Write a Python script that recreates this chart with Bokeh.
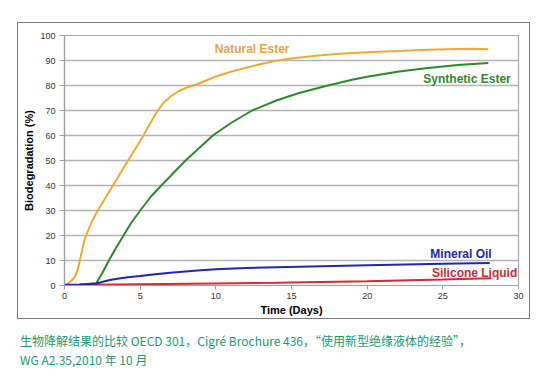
from bokeh.plotting import figure
from bokeh.models import Label, FixedTicker, Title
from bokeh.layouts import column
from bokeh.embed import file_html
from bokeh.resources import INLINE

# ---- data ----
natural_days = [0, 0.33, 0.66, 0.88, 1.1, 1.32, 1.5, 1.8, 2.2, 2.7, 3.2, 3.7, 4.2, 4.7, 5.2, 5.6, 6.06, 6.5, 7.0, 7.5, 8.0, 8.8, 10, 11, 12, 13, 13.9, 15, 16, 17, 18, 19, 20, 22, 24, 26, 27, 28]
natural_vals = [0, 1.2, 3.2, 6.4, 12.4, 18.3, 21, 25.5, 30, 35, 40, 45, 50, 54.8, 59.8, 64.2, 69, 72.8, 75.6, 77.6, 79, 80.6, 83.6, 85.5, 87.1, 88.6, 89.8, 90.8, 91.5, 92.1, 92.6, 93.0, 93.3, 93.8, 94.3, 94.6, 94.7, 94.5]

synthetic_days = [0, 1, 2.1, 2.5, 2.97, 3.4, 3.8, 4.4, 5.07, 5.7, 6.4, 7.2, 8.0, 8.9, 9.8, 11, 12.4, 14, 15.5, 17.4, 19, 20, 22, 24, 26, 28]
synthetic_vals = [0, 0.3, 0.9, 5, 10.4, 15, 19, 25, 30.5, 35.5, 40, 45, 50, 55, 60, 65, 70, 74, 77, 80, 82.3, 83.5, 85.5, 87, 88.2, 89]

mineral_days = [0, 1, 2.1, 2.6, 3, 3.6, 4.2, 5, 6, 7, 8, 9, 10, 12, 14, 17, 20, 25, 28.1]
mineral_vals = [0.3, 0.4, 0.8, 1.6, 2.2, 2.8, 3.3, 3.8, 4.5, 5.1, 5.6, 6.1, 6.5, 7.0, 7.3, 7.7, 8.1, 8.7, 9.0]

silicone_days = [0, 2, 5, 10, 14, 20, 25, 28.2]
silicone_vals = [0.2, 0.3, 0.5, 0.8, 1.1, 1.7, 2.4, 2.9]

x_ticks = [0, 5, 10, 15, 20, 25, 30]
y_ticks = [0, 10, 20, 30, 40, 50, 60, 70, 80, 90, 100]

series_names = ["Natural Ester", "Synthetic Ester", "Mineral Oil", "Silicone Liquid"]
x_title = "Time (Days)"
y_title = "Biodegradation (%)"
caption_1 = "生物降解结果的比较 OECD 301，Cigré Brochure 436，“使用新型绝缘液体的经验”，"
caption_2 = "WG A2.35,2010 年 10 月"

# ---- chart (boxed) ----
p = figure(width=513, height=297, x_range=(0, 30), y_range=(0, 100),
           output_backend="svg", toolbar_location=None,
           min_border_left=46, min_border_right=13, min_border_top=12, min_border_bottom=35)
p.margin = (22, 0, 0, 17)
p.styles = {"border": "1.5px solid #7a7a7a"}
p.background_fill_color = "white"
p.border_fill_color = "white"
p.outline_line_color = "#a8a8a8"
p.outline_line_width = 1.2

p.xgrid.grid_line_color = None
p.ygrid.grid_line_color = "#b4b4b4"
p.ygrid.grid_line_width = 1.3

p.xaxis.ticker = FixedTicker(ticks=x_ticks)
p.yaxis.ticker = FixedTicker(ticks=y_ticks)
for ax in (p.xaxis, p.yaxis):
    ax.axis_line_color = "#a0a0a0"
    ax.axis_line_width = 1.2
    ax.major_tick_line_color = "#a0a0a0"
    ax.minor_tick_line_color = None
    ax.major_tick_in = 0
    ax.major_label_text_font = "Liberation Sans"
    ax.major_label_text_font_size = "9px"
    ax.major_label_text_color = "#333333"
    ax.axis_label_text_font = "Liberation Sans"
    ax.axis_label_text_font_size = "11px"
    ax.axis_label_text_font_style = "bold"
    ax.axis_label_text_color = "#000000"
    ax.axis_label_standoff = 2
p.xaxis.major_tick_out = 4
p.xaxis.major_label_standoff = 3
p.yaxis.major_tick_out = 5
p.yaxis.major_label_standoff = 4
p.xaxis.axis_label = x_title
p.yaxis.axis_label = y_title

line_colors = ["#EFAA34", "#2B8A2B", "#2424B0", "#D42A32"]
label_colors = ["#E8A838", "#2E8B2E", "#2626A8", "#D22A36"]
p.line(natural_days, natural_vals, line_color=line_colors[0], line_width=2)
p.line(synthetic_days, synthetic_vals, line_color=line_colors[1], line_width=2)
p.line(silicone_days, silicone_vals, line_color=line_colors[3], line_width=2)
p.line(mineral_days, mineral_vals, line_color=line_colors[2], line_width=2)

label_pos = [(12.4, 94.7), (26.6, 82.5), (26.2, 12.7), (27.1, 5.1)]
for name, (lx, ly), c in zip(series_names, label_pos, label_colors):
    p.add_layout(Label(x=lx, y=ly, text=name, text_align="center", text_baseline="middle",
                       text_font="Liberation Sans", text_font_size="12px",
                       text_font_style="bold", text_color=c))

# ---- caption (titles below a tiny frame) ----
cap = figure(width=534, height=48, x_range=(0, 1), y_range=(0, 1),
             output_backend="svg", toolbar_location=None,
             x_axis_location=None, y_axis_location=None,
             min_border_left=0, min_border_right=0, min_border_top=0, min_border_bottom=0)
cap.outline_line_color = None
cap.xgrid.grid_line_color = None
cap.ygrid.grid_line_color = None
cap.background_fill_color = "white"
cap.border_fill_color = "white"
for txt in (caption_1, caption_2):
    cap.add_layout(Title(text=txt, align="left", offset=-26.5, standoff=0,
                         text_font="Noto Sans CJK SC", text_font_size="12px",
                         text_font_style="normal", text_color="#1b9a6c",
                         text_line_height=1.0), "below")

layout = column(p, cap)
open("out.html", "w").write(file_html(layout, INLINE))
